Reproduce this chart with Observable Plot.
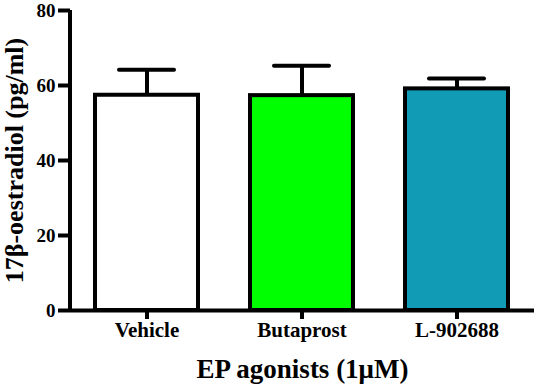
<!DOCTYPE html>
<html>
<head>
<meta charset="utf-8">
<script src="https://cdn.jsdelivr.net/npm/d3@7"></script>
<script src="https://cdn.jsdelivr.net/npm/@observablehq/plot@0.6"></script>
<style>
  html, body { margin: 0; padding: 0; background: #fff; }
  svg { font-family: "Liberation Serif", "Times New Roman", serif; }
</style>
</head>
<body>
<div id="chart"></div>
<script>
const categories = ["Vehicle", "Butaprost", "L-902688"];
const means = [57.4, 57.3, 59.1];
const errors = [6.8, 8.0, 2.8];
const colors = ["#ffffff", "#00ff00", "#129bb4"];
const yTicks = [0, 20, 40, 60, 80];
const xTitle = "EP agonists (1μM)";
const yTitle = "17β-oestradiol (pg/ml)";

const data = categories.map((c, i) => ({cat: c, value: means[i], top: means[i] + errors[i], color: colors[i]}));

const font = {fontWeight: "bold", fill: "#000"};

const yAxisLine = (index, scales, values, dimensions) => {
  const {marginLeft} = dimensions;
  const ns = "http://www.w3.org/2000/svg";
  const line = document.createElementNS(ns, "line");
  line.setAttribute("x1", marginLeft);
  line.setAttribute("x2", marginLeft);
  line.setAttribute("y1", scales.y(80));
  line.setAttribute("y2", scales.y(0));
  line.setAttribute("stroke", "#000");
  line.setAttribute("stroke-width", 4);
  return line;
};

const chart = Plot.plot({
  width: 540,
  height: 385,
  marginLeft: 70,
  marginRight: 6,
  marginTop: 10,
  marginBottom: 75,
  x: {domain: categories, paddingInner: 0.333, paddingOuter: 0.154, label: null},
  y: {domain: [0, 80], label: null},
  marks: [
    Plot.barY(data, {x: "cat", y: "value", fill: "color", stroke: "#000", strokeWidth: 4}),
    Plot.ruleX(data, {x: "cat", y1: "value", y2: "top", stroke: "#000", strokeWidth: 4}),
    Plot.tickY(data, {x: "cat", y: "top", stroke: "#000", strokeWidth: 4, strokeLinecap: "round", insetLeft: 24, insetRight: 24}),
    Plot.ruleY([0], {stroke: "#000", strokeWidth: 4}),
    yAxisLine,
    Plot.axisY({ticks: yTicks, tickSize: 12, tickPadding: 3, strokeWidth: 4, fontSize: 19, ...font, label: null}),
    Plot.axisX({tickSize: 9, tickPadding: 3, strokeWidth: 4, fontSize: 21, ...font, label: null}),
    Plot.text([xTitle], {frameAnchor: "bottom", dy: 67, fontSize: 27, ...font}),
    Plot.text([yTitle], {frameAnchor: "left", textAnchor: "middle", rotate: -90, dx: -56, dy: 0, fontSize: 26, ...font})
  ]
});
document.getElementById("chart").appendChild(chart);
</script>
</body>
</html>
